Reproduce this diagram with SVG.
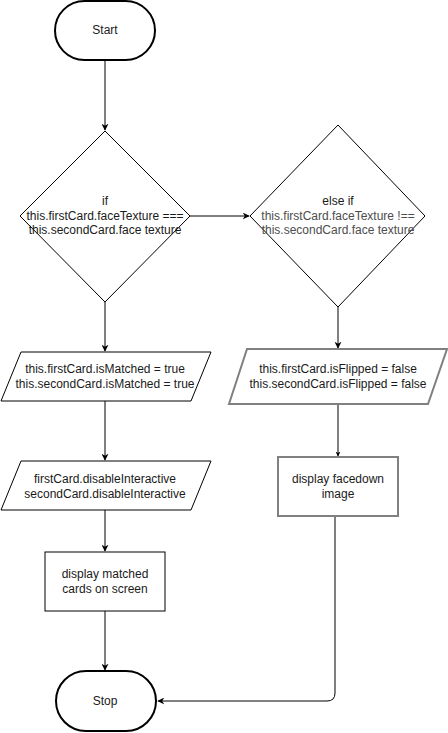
<svg xmlns="http://www.w3.org/2000/svg" width="448" height="733" viewBox="0 0 448 733">
<defs>
<style>
text{font-family:"Liberation Sans",Arial,sans-serif;font-size:12px;fill:#1a1a1a;text-anchor:middle;dominant-baseline:central}
.g{fill:#4d4d4d}
.term{fill:#fff;stroke:#000;stroke-width:2}
.shape{fill:#fff;stroke:#000;stroke-width:1}
.gshape{fill:#fff;stroke:#808080;stroke-width:2}
.edge{fill:none;stroke:#000;stroke-width:1}
.gedge{fill:none;stroke:#808080;stroke-width:2}
</style>
<marker id="arr" viewBox="0 0 10 10" refX="9" refY="5" markerWidth="7" markerHeight="7" markerUnits="userSpaceOnUse" orient="auto">
<path d="M0,0 L10,5 L0,10 L3,5 Z" fill="#000"/>
</marker>
<marker id="arr2" viewBox="0 0 10 10" refX="9" refY="5" markerWidth="5" markerHeight="5" markerUnits="userSpaceOnUse" orient="auto">
<path d="M0,0 L10,5 L0,10 L3,5 Z" fill="#000"/>
</marker>
</defs>
<rect width="448" height="733" fill="#fff"/>
<g id="connectors">
<path class="edge" d="M105,61 V130" marker-end="url(#arr)"/>
<path class="edge" d="M190,216 H249" marker-end="url(#arr)"/>
<path class="edge" d="M105,302 V351" marker-end="url(#arr)"/>
<path class="edge" d="M338,307 V348" marker-end="url(#arr)" style="stroke:#808080;stroke-width:2"/>
<path class="edge" d="M105,401 V460" marker-end="url(#arr)"/>
<path class="gedge" d="M338,404 V456" marker-end="url(#arr2)"/>
<path class="edge" d="M105,510 V551" marker-end="url(#arr)"/>
<path class="edge" d="M105,611 V670" marker-end="url(#arr)"/>
<path class="edge" d="M335,516 V693 Q335,701 327,701 H158" marker-end="url(#arr)"/>
</g>
<g id="start">
<rect class="term" x="55" y="1" width="100" height="59" rx="29.5"/>
<text x="105" y="30">Start</text>
</g>
<g id="if">
<polygon class="shape" points="105,131 190,216 105,302 20,216"/>
<text x="105" y="201">if</text>
<text x="105" y="216">this.firstCard.faceTexture ===</text>
<text x="105" y="230">this.secondCard.face texture</text>
</g>
<g id="elseif">
<polygon class="shape" points="338,125 425,216 338,307 250,216"/>
<text x="338" y="201">else if</text>
<text class="g" x="338" y="216">this.firstCard.faceTexture !==</text>
<text class="g" x="338" y="230">this.secondCard.face texture</text>
</g>
<g id="matched">
<polygon class="shape" points="21,352 211,352 191,401 1,401"/>
<text x="105" y="369">this.firstCard.isMatched = true</text>
<text x="105" y="384">this.secondCard.isMatched = true</text>
</g>
<g id="flipped">
<polygon class="gshape" points="247,349 447,349 428,404 229,404"/>
<text x="338" y="369">this.firstCard.isFlipped = false</text>
<text x="338" y="384">this.secondCard.isFlipped = false</text>
</g>
<g id="disable">
<polygon class="shape" points="21,461 211,461 191,510 1,510"/>
<text x="105" y="479">firstCard.disableInteractive</text>
<text x="105" y="494">secondCard.disableInteractive</text>
</g>
<g id="facedown">
<rect class="gshape" x="278" y="457" width="120" height="59"/>
<text x="338" y="479">display facedown</text>
<text x="338" y="494">image</text>
</g>
<g id="display">
<rect class="shape" x="45" y="552" width="120" height="59"/>
<text x="105" y="574">display matched</text>
<text x="105" y="589">cards on screen</text>
</g>
<g id="stop">
<rect class="term" x="56" y="671" width="100" height="60" rx="30"/>
<text x="105" y="701">Stop</text>
</g>
</svg>
